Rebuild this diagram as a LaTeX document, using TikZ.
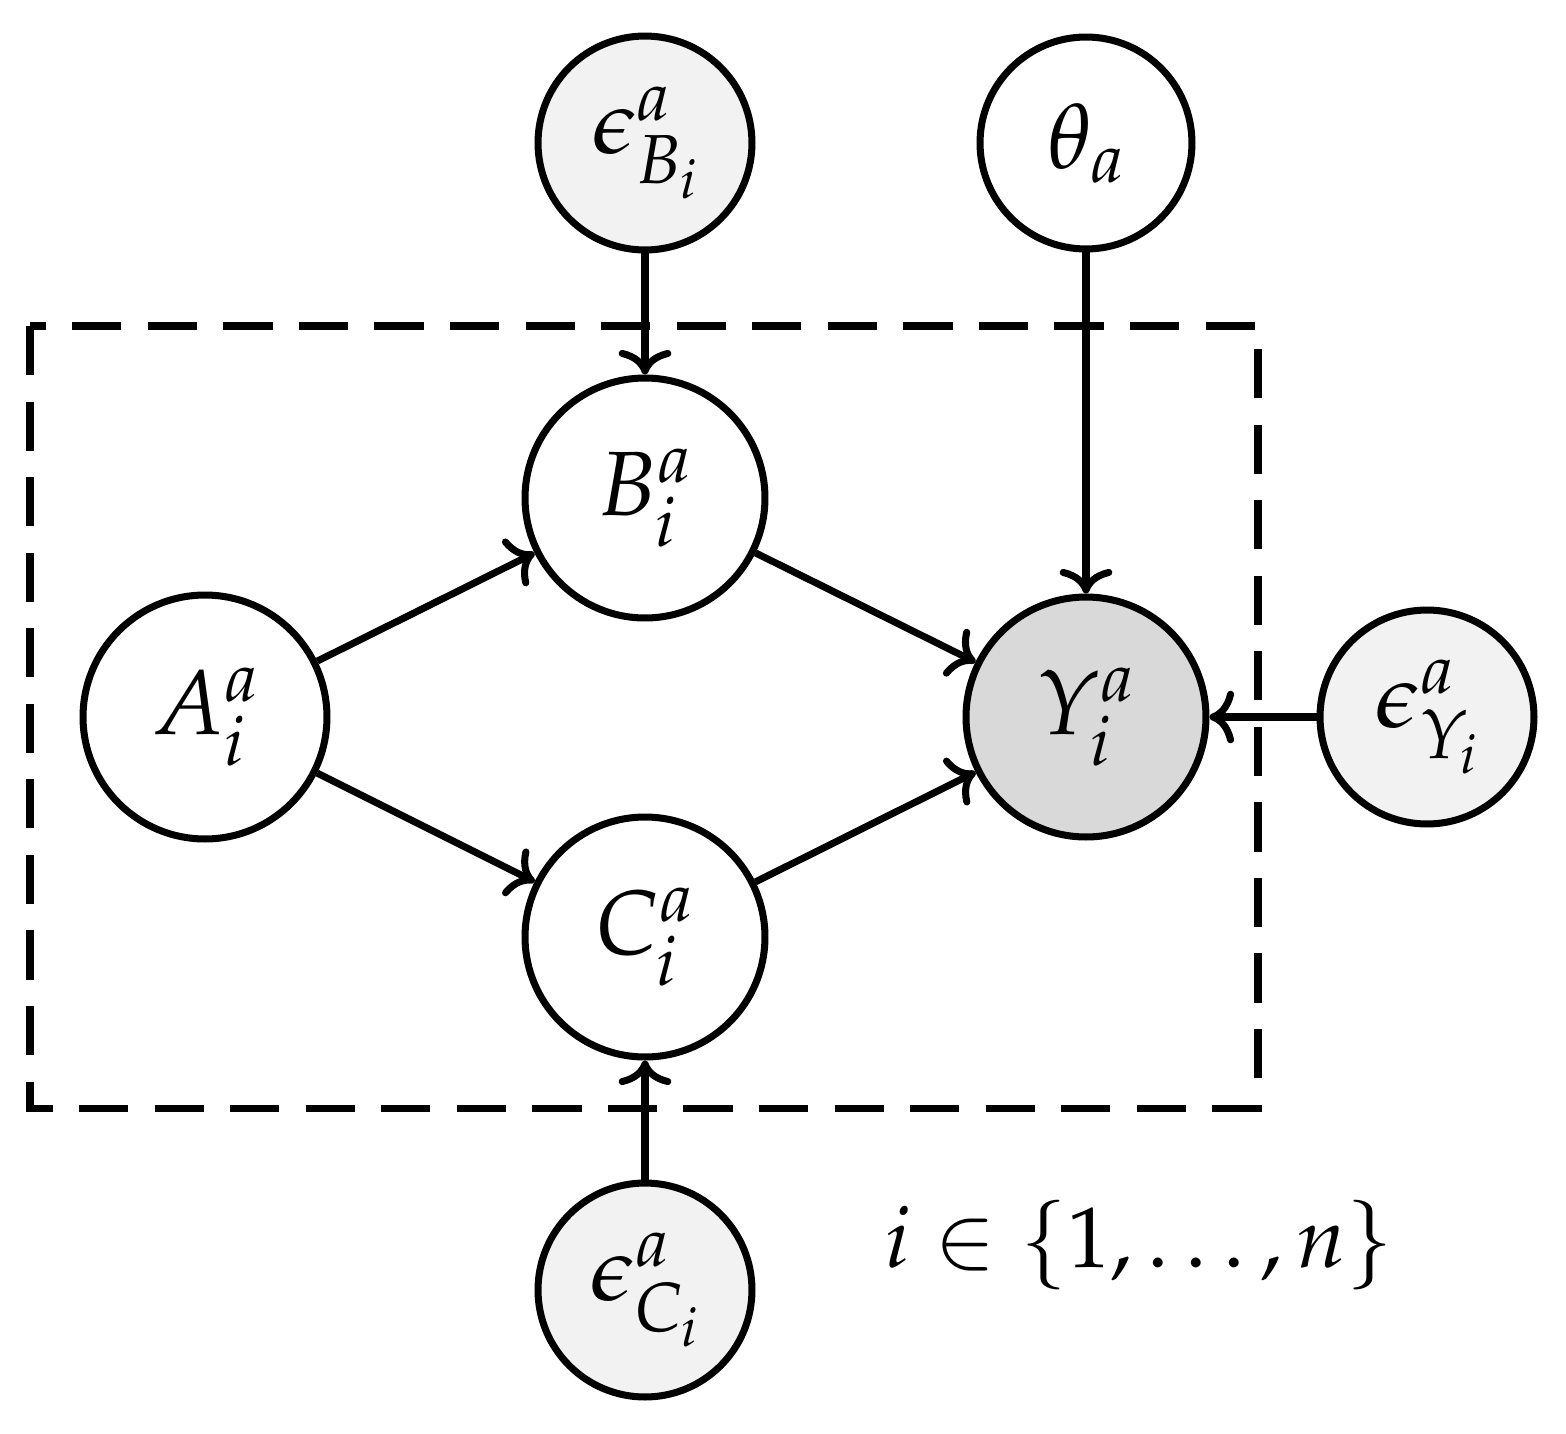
\documentclass[tikz,border=0pt]{standalone}
\usepackage{mathpazo}
\usetikzlibrary{arrows.meta}
\begin{document}
\begin{tikzpicture}[x=0.02cm,y=-0.02cm,
  nd/.style={circle,draw,line width=4pt,inner sep=0pt,font=\fontsize{52}{60}\selectfont},
  big/.style={nd,minimum size=4.8cm},
  sm/.style={nd,minimum size=4.28cm,fill=black!5},
  ar/.style={line width=4pt,-{To[length=14pt,width=30pt,line width=4pt]}}]
\useasboundingbox (0,0) rectangle (1566,1434);
\draw[line width=4pt,dash pattern=on 28pt off 15pt] (30,326) rectangle (1258,1108);
\node[sm] (eB) at (645,143) {$\epsilon^a_{B_i}$};
\node[nd,minimum size=4.24cm] (th) at (1086,143) {$\theta_a$};
\node[big] (B) at (645,498) {$B^a_i$};
\node[big,minimum size=4.88cm] (A) at (205,717) {$A^a_i$};
\node[big,fill=black!15] (Y) at (1086,717) {$Y^a_i$};
\node[sm] (eY) at (1427,717) {$\epsilon^a_{Y_i}$};
\node[big] (C) at (645,937) {$C^a_i$};
\node[sm] (eC) at (645,1290) {$\epsilon^a_{C_i}$};
\node[font=\fontsize{49}{58}\selectfont] (lbl) at (1139,1245) {$i\in\{1,\ldots,n\}$};
\draw[ar] (eB) -- (B);
\draw[ar] (th) -- (Y);
\draw[ar] (A) -- (B);
\draw[ar] (A) -- (C);
\draw[ar] (B) -- (Y);
\draw[ar] (C) -- (Y);
\draw[ar] (eY) -- (Y);
\draw[ar] (eC) -- (C);
\end{tikzpicture}
\end{document}
